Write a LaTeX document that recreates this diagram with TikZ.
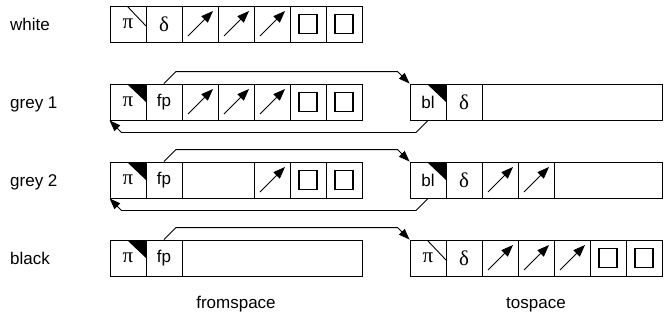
\documentclass[tikz,border=0pt]{standalone}
\usepackage{fontspec}
\setmainfont{Liberation Sans}
\newfontfamily\grkfont{Liberation Serif}
\newcommand{\grk}{\grkfont\fontsize{21}{21}\selectfont}
\usetikzlibrary{arrows.meta,calc}
\begin{document}
\begin{tikzpicture}[x=1pt,y=-1pt,
  txt/.style={font=\fontsize{17}{17}\selectfont},
  cell/.style={draw,line width=0.9pt,minimum width=36pt,minimum height=36pt,inner sep=0pt,txt},
  wide/.style={cell,minimum width=#1*36pt},
  tipA/.tip={Triangle[length=11pt,width=8pt]},
  tipB/.tip={Triangle[length=12pt,width=9pt]},
  ptrcell/.style={cell,path picture={
     \draw[line width=0.9pt,-tipB] ($(path picture bounding box.south west)+(6,-6)$) -- ($(path picture bounding box.north east)+(-5,5)$);}},
  sqcell/.style={cell,path picture={
     \draw[line width=1.1pt] ($(path picture bounding box.center)+(-9,-9.5)$) rectangle ($(path picture bounding box.center)+(9,9.5)$);}},
  tricell/.style={cell,path picture={
     \fill ($(path picture bounding box.north east)+(-19,0)$) -- (path picture bounding box.north east) -- ($(path picture bounding box.north east)+(0,18)$) -- cycle;}},
  slashcell/.style={cell,path picture={
     \draw[line width=0.9pt] ($(path picture bounding box.north east)+(-19,0)$) -- ($(path picture bounding box.north east)+(0,20)$);}},
  lbl/.style={txt,anchor=base west,inner sep=0pt},
  capt/.style={txt,anchor=base,inner sep=0pt},
  conn/.style={line width=0.9pt,-tipA}
]
\useasboundingbox (0,0) rectangle (671,322);

% row labels
\node[lbl] (lw) at (10,30) {white};
\node[lbl] (l1) at (10,108) {grey 1};
\node[lbl] (l2) at (10,186) {grey 2};
\node[lbl] (lb) at (10,264) {black};

% white row
\node[slashcell] (w0) at (128,24) {\grk π\hspace{3pt}};
\node[cell] (w1) at (164,24) {\grk δ};
\node[ptrcell] (w2) at (200,24) {};
\node[ptrcell] (w3) at (236,24) {};
\node[ptrcell] (w4) at (272,24) {};
\node[sqcell] (w5) at (308,24) {};
\node[sqcell] (w6) at (344,24) {};

% grey 1 row
\node[tricell] (a0) at (128,102) {\grk π\hspace{3pt}};
\node[cell] (a1) at (164,102) {fp};
\node[ptrcell] (a2) at (200,102) {};
\node[ptrcell] (a3) at (236,102) {};
\node[ptrcell] (a4) at (272,102) {};
\node[sqcell] (a5) at (308,102) {};
\node[sqcell] (a6) at (344,102) {};
\node[tricell] (b0) at (428,102) {bl\hspace{2pt}};
\node[cell] (b1) at (464,102) {\grk δ};
\node[wide=5] (b2) at (572,102) {};

% grey 2 row
\node[tricell] (c0) at (128,180) {\grk π\hspace{3pt}};
\node[cell] (c1) at (164,180) {fp};
\node[wide=2] (c2) at (218,180) {};
\node[ptrcell] (c4) at (272,180) {};
\node[sqcell] (c5) at (308,180) {};
\node[sqcell] (c6) at (344,180) {};
\node[tricell] (d0) at (428,180) {bl\hspace{2pt}};
\node[cell] (d1) at (464,180) {\grk δ};
\node[ptrcell] (d2) at (500,180) {};
\node[ptrcell] (d3) at (536,180) {};
\node[wide=3] (d4) at (608,180) {};

% black row
\node[tricell] (e0) at (128,258) {\grk π\hspace{3pt}};
\node[cell] (e1) at (164,258) {fp};
\node[wide=5] (e2) at (272,258) {};
\node[slashcell] (f0) at (428,258) {\grk π\hspace{3pt}};
\node[cell] (f1) at (464,258) {\grk δ};
\node[ptrcell] (f2) at (500,258) {};
\node[ptrcell] (f3) at (536,258) {};
\node[ptrcell] (f4) at (572,258) {};
\node[sqcell] (f5) at (608,258) {};
\node[sqcell] (f6) at (644,258) {};

% captions
\node[capt] (fs) at (236,308) {fromspace};
\node[capt] (ts) at (536,308) {tospace};

% connectors
\draw[conn] (a1.north) -- ++(12,-12) -- ($(b0.north west)+(-12,-12)$) -- (b0.north west);
\draw[conn] (b0.south) -- ++(-12,12) -- ($(a0.south west)+(12,12)$) -- (a0.south west);
\draw[conn] (c1.north) -- ++(12,-12) -- ($(d0.north west)+(-12,-12)$) -- (d0.north west);
\draw[conn] (d0.south) -- ++(-12,12) -- ($(c0.south west)+(12,12)$) -- (c0.south west);
\draw[conn] (e1.north) -- ++(12,-12) -- ($(f0.north west)+(-12,-12)$) -- (f0.north west);
\end{tikzpicture}
\end{document}
